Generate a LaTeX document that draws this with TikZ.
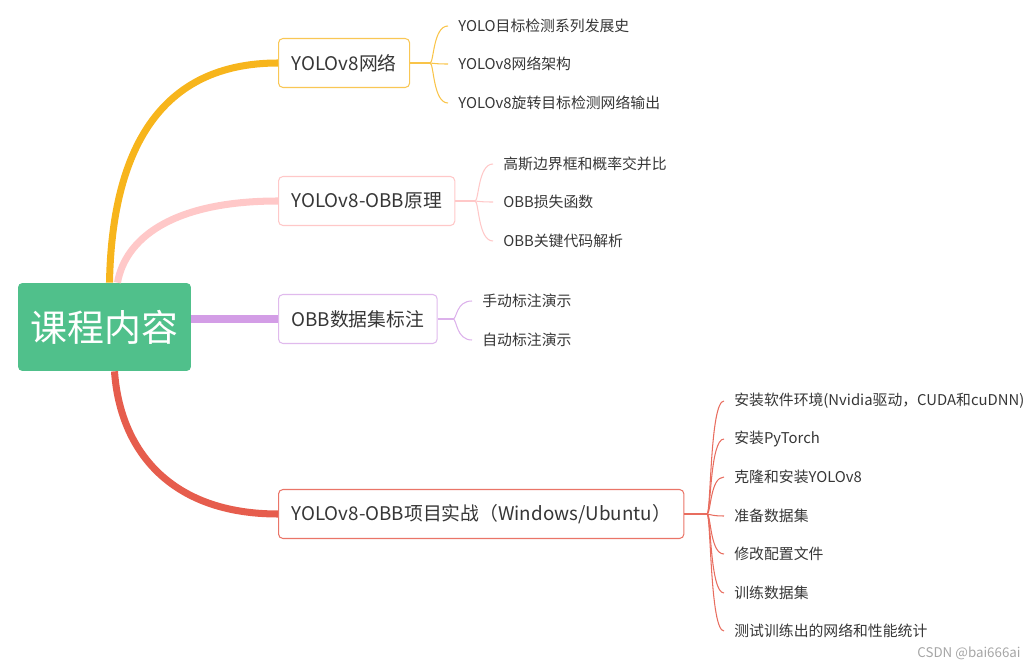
\documentclass[tikz,border=0pt]{standalone}
\usepackage{fontspec}
\setmainfont{Noto Sans CJK SC}
\usetikzlibrary{calc}
\definecolor{rootgreen}{HTML}{50C08B}
\definecolor{ylw}{HTML}{F7B51C}
\definecolor{pnk}{HTML}{FFC8C8}
\definecolor{prp}{HTML}{D39DE6}
\definecolor{rd}{HTML}{E65D4D}
\definecolor{txt}{HTML}{363636}

\begin{document}
\begin{tikzpicture}[x=0.02cm, y=-0.02cm, text=txt,
    branch/.style={draw=#1, fill=white, rounded corners=2.5pt, line width=0.6pt,
        anchor=west, minimum height=0.98cm, inner xsep=7.4pt,
        font=\fontsize{10.7}{13}\selectfont},
    leaf/.style={anchor=west, inner xsep=5.7pt, inner ysep=0pt,
        font=\fontsize{8.45}{10}\selectfont},
    trunk/.style={draw=#1, line width=4pt},
    twig/.style={draw=#1, line width=0.6pt}]
    \useasboundingbox (0,0) rectangle (1036,669);

    % root and first level
    \node[fill=rootgreen, text=white, rounded corners=2.5pt, minimum width=3.46cm,
        minimum height=1.76cm, font=\fontsize{21}{24}\selectfont] (root) at (104.5,327) {课程内容};
    \node[branch=ylw!75] (net) at (278,63) {YOLOv8网络};
    \node[branch=pnk] (theory) at (278,201) {YOLOv8-OBB原理};
    \node[branch=prp!70] (label) at (278,319) {OBB数据集标注};
    \node[branch=rd!85] (practice) at (278,514) {YOLOv8-OBB项目实战（Windows/Ubuntu）};

    \draw[trunk=pnk] ($(root.north)+(13,0)$) .. controls (125,240) and (170,201) .. (theory.west);
    \draw[trunk=ylw] ($(root.north)+(5,0)$) .. controls (112,150) and (160,63) .. (net.west);
    \draw[trunk=prp] (label.west -| root.east) -- (label.west);
    \draw[trunk=rd] ($(root.south)+(10,0)$) .. controls (120,450) and (170,514) .. (practice.west);

    % second level
    \coordinate (j1) at (430,63);
    \coordinate (j2) at (475,201);
    \coordinate (j3) at (453,319);
    \coordinate (j4) at (707,514);

    \node[leaf] (n1) at (448,26) {YOLO目标检测系列发展史};
    \node[leaf] (n2) at (448,64) {YOLOv8网络架构};
    \node[leaf] (n3) at (448,103) {YOLOv8旋转目标检测网络输出};

    \node[leaf] (t1) at (493,164) {高斯边界框和概率交并比};
    \node[leaf] (t2) at (493,202) {OBB损失函数};
    \node[leaf] (t3) at (493,241) {OBB关键代码解析};

    \node[leaf] (l1) at (472,301) {手动标注演示};
    \node[leaf] (l2) at (472,340) {自动标注演示};

    \node[leaf] (p1) at (724,401) {安装软件环境(Nvidia驱动，CUDA和cuDNN)};
    \node[leaf] (p2) at (724,439) {安装PyTorch};
    \node[leaf] (p3) at (724,477) {克隆和安装YOLOv8};
    \node[leaf] (p4) at (724,516) {准备数据集};
    \node[leaf] (p5) at (724,554) {修改配置文件};
    \node[leaf] (p6) at (724,593) {训练数据集};
    \node[leaf] (p7) at (724,631) {测试训练出的网络和性能统计};

    \draw[twig=ylw!80] (net.east) -- (j1);
    \foreach \i in {1,2,3} {
        \draw[twig=ylw!80] (j1) .. controls ($(j1)+(4,0)$) and ($(j1 |- n\i.west)+(3,0)$) .. (n\i.west);
    }
    \draw[twig=pnk] (theory.east) -- (j2);
    \foreach \i in {1,2,3} {
        \draw[twig=pnk] (j2) .. controls ($(j2)+(4,0)$) and ($(j2 |- t\i.west)+(3,0)$) .. (t\i.west);
    }
    \draw[twig=prp!80] (label.east) -- (j3);
    \foreach \i in {1,2} {
        \draw[twig=prp!80] (j3) .. controls ($(j3)+(4,0)$) and ($(j3 |- l\i.west)+(3,0)$) .. (l\i.west);
    }
    \draw[twig=rd!90] (practice.east) -- (j4);
    \foreach \i in {1,...,7} {
        \draw[twig=rd!90] (j4) .. controls ($(j4)+(4,0)$) and ($(j4 |- p\i.west)+(3,0)$) .. (p\i.west);
    }

    \node[anchor=east, text=black!35, inner sep=0pt, font=\fontsize{7.6}{9}\selectfont] (mark) at (1021,653) {CSDN @bai666ai};
\end{tikzpicture}
\end{document}
